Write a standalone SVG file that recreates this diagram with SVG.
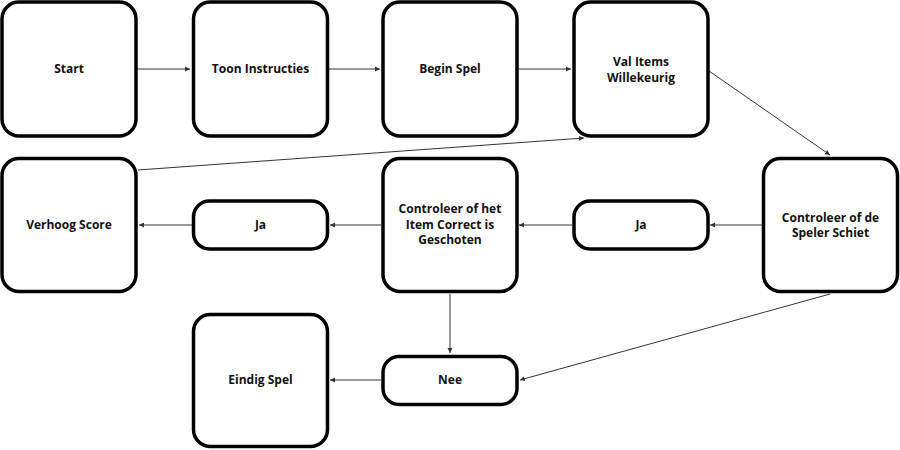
<svg xmlns="http://www.w3.org/2000/svg" width="900" height="450" viewBox="0 0 900 450">
<defs>
<style>
.box{fill:#fff;stroke:#000;stroke-width:3.5}
.t{font-family:"Open Sans","Liberation Sans",sans-serif;font-weight:bold;font-size:12px;fill:#111;text-anchor:middle}
.c{stroke:#333;stroke-width:1;fill:none;marker-end:url(#ah)}
</style>
<marker id="ah" markerUnits="userSpaceOnUse" markerWidth="8" markerHeight="8" refX="5" refY="3" orient="auto">
<path d="M0,0.5 L5,3 L0,5.5 Z" fill="#333"/>
</marker>
</defs>
<rect width="900" height="450" fill="#fff"/>
<g id="connectors">
<line class="c" x1="137" y1="69" x2="190" y2="69"/>
<line class="c" x1="328" y1="69" x2="380" y2="69"/>
<line class="c" x1="518" y1="69" x2="571" y2="69"/>
<line class="c" x1="709" y1="71" x2="830" y2="155"/>
<line class="c" x1="138" y1="170" x2="584" y2="138"/>
<line class="c" x1="762" y1="225" x2="710" y2="225"/>
<line class="c" x1="572" y1="225" x2="519" y2="225"/>
<line class="c" x1="381" y1="225" x2="330" y2="225"/>
<line class="c" x1="192" y1="225" x2="139" y2="225"/>
<line class="c" x1="450" y1="294" x2="450" y2="353"/>
<line class="c" x1="830" y1="294" x2="520" y2="380"/>
<line class="c" x1="381" y1="380" x2="330" y2="380"/>
</g>
<g id="start"><rect class="box" x="2" y="2" width="134" height="134" rx="17"/><text class="t" x="69" y="73.3">Start</text></g>
<g id="toon"><rect class="box" x="193.5" y="2" width="134" height="134" rx="17"/><text class="t" x="260.5" y="73.3">Toon Instructies</text></g>
<g id="begin"><rect class="box" x="383" y="2" width="134" height="134" rx="17"/><text class="t" x="450" y="73.3">Begin Spel</text></g>
<g id="val"><rect class="box" x="574" y="2" width="134" height="134" rx="17"/><text class="t" x="641" y="66">Val Items</text><text class="t" x="641" y="81.6">Willekeurig</text></g>
<g id="verhoog"><rect class="box" x="2" y="158.5" width="134" height="133" rx="17"/><text class="t" x="69" y="229.3">Verhoog Score</text></g>
<g id="ja1"><rect class="box" x="193.5" y="201" width="134" height="48" rx="16"/><text class="t" x="260.5" y="229.3">Ja</text></g>
<g id="controleerItem"><rect class="box" x="383" y="158.5" width="134" height="133" rx="17"/><text class="t" x="450" y="213.3">Controleer of het</text><text class="t" x="450" y="228.8">Item Correct is</text><text class="t" x="450" y="244.3">Geschoten</text></g>
<g id="ja2"><rect class="box" x="574" y="201" width="134" height="48" rx="16"/><text class="t" x="641" y="229.3">Ja</text></g>
<g id="controleerSpeler"><rect class="box" x="763.5" y="158.5" width="134" height="133" rx="17"/><text class="t" x="830.5" y="221.5">Controleer of de</text><text class="t" x="830.5" y="237">Speler Schiet</text></g>
<g id="eindig"><rect class="box" x="193.5" y="314.5" width="134" height="132" rx="17"/><text class="t" x="260.5" y="384.3">Eindig Spel</text></g>
<g id="nee"><rect class="box" x="383" y="356.5" width="134" height="48" rx="16"/><text class="t" x="450" y="384.3">Nee</text></g>
</svg>
